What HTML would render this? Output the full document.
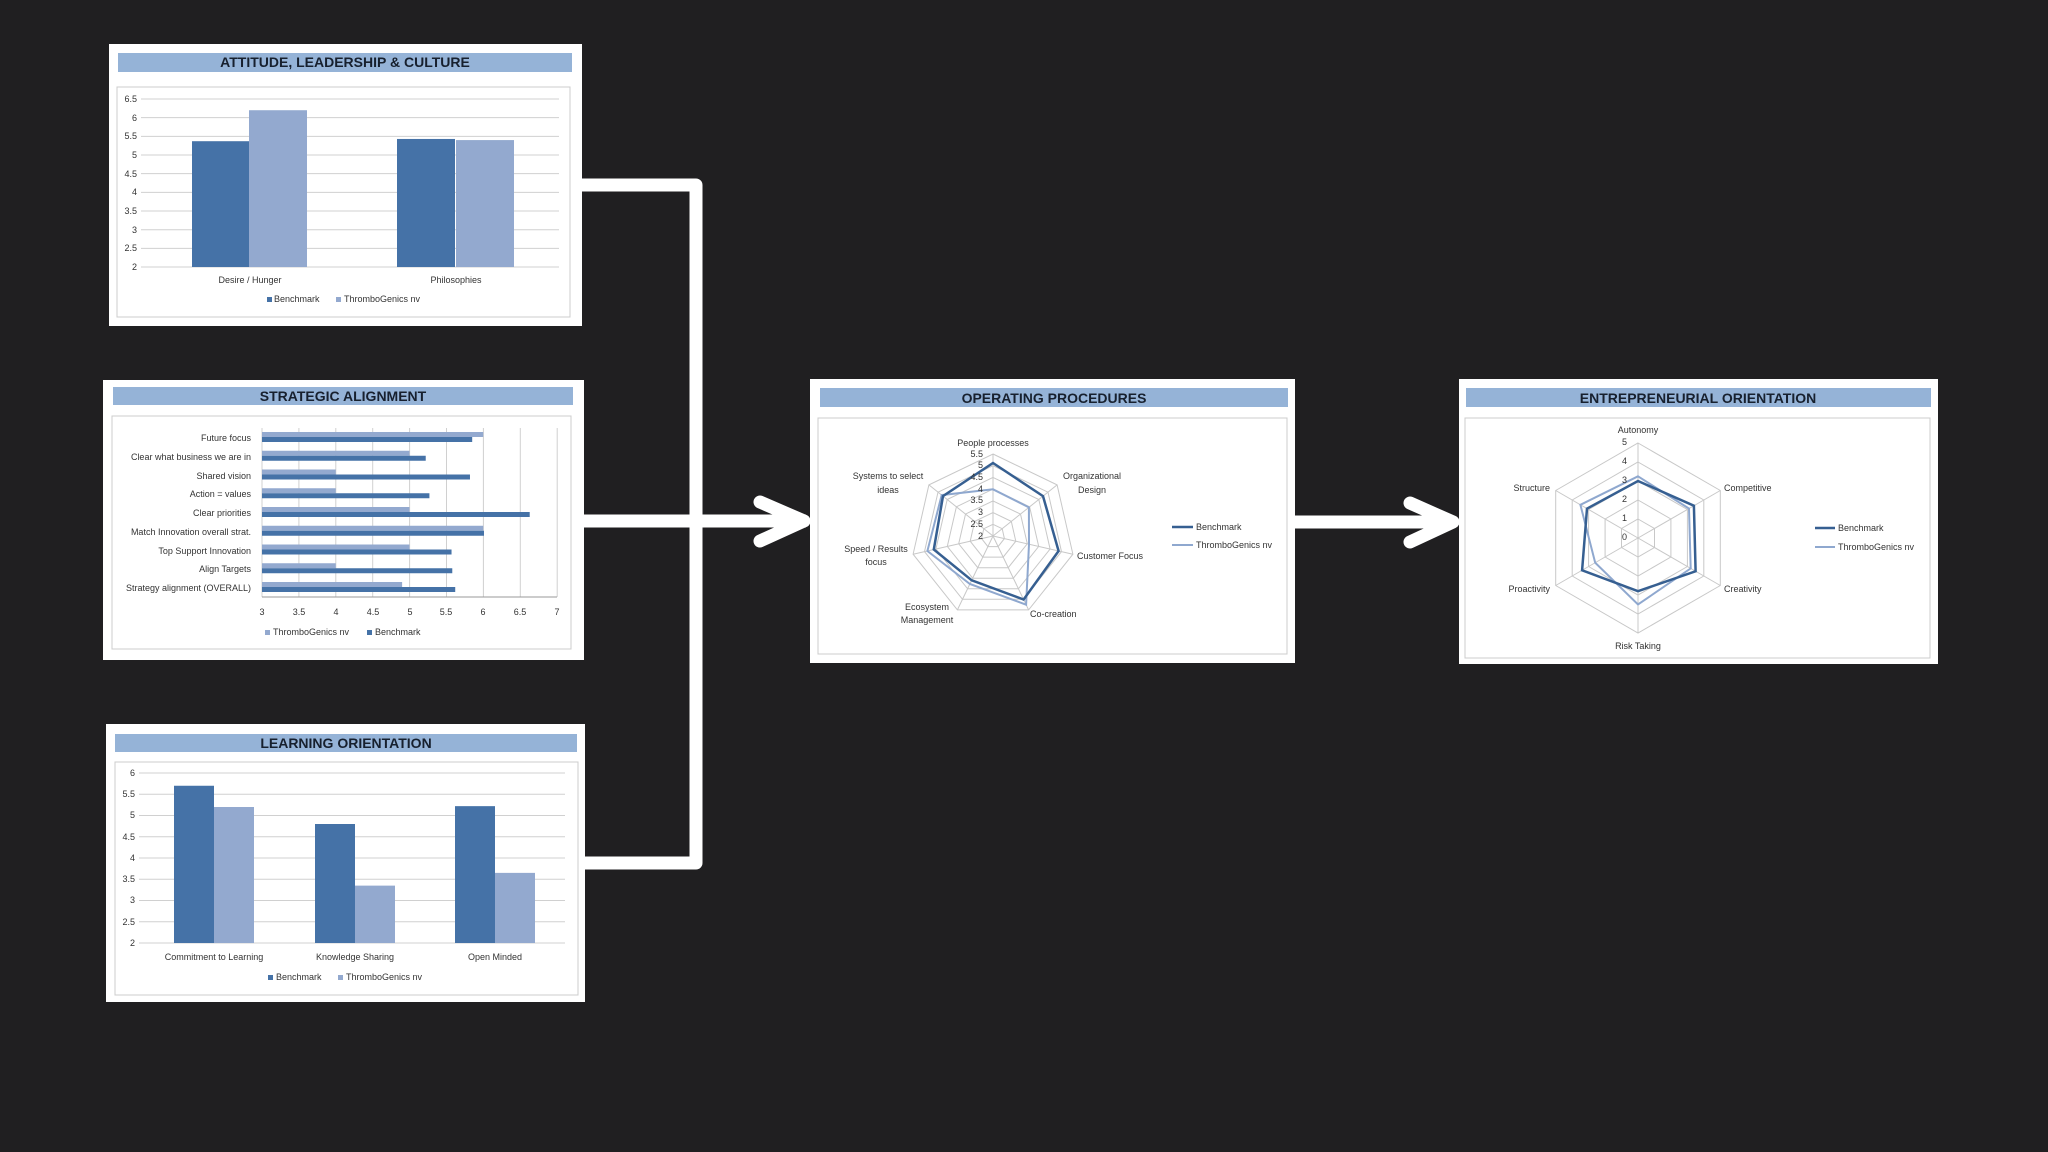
<!DOCTYPE html>
<html><head><meta charset="utf-8"><style>
html,body{margin:0;padding:0;background:#201f21;}
svg{display:block;font-family:"Liberation Sans",sans-serif;}
.t{font-weight:bold;font-size:14px;fill:#17202e;text-anchor:middle;}
.s{font-size:9px;fill:#333;}
.m{text-anchor:middle}.e{text-anchor:end}
</style></head><body>
<svg id="sv" width="2048" height="1152" viewBox="0 0 2048 1152" xmlns="http://www.w3.org/2000/svg">
<rect width="2048" height="1152" fill="#201f21"/>
<!-- connectors -->
<g fill="none" stroke="#fff" stroke-width="13" stroke-linejoin="round">
<path d="M582 185 H696 V863 H584"/>
<path d="M584 521 H806"/>
<path d="M760 502 L804 521 L760 541" stroke-linecap="round"/>
<path d="M1295 522 H1454"/>
<path d="M1410 503 L1453 522 L1410 542" stroke-linecap="round"/>
</g>
<!-- panels -->
<g fill="#fff"><rect x="109" y="44" width="473" height="282"/><rect x="103" y="380" width="481" height="280"/><rect x="810" y="379" width="485" height="284"/><rect x="1459" y="379" width="479" height="285"/><rect x="106" y="724" width="479" height="278"/></g>
<g fill="#95b3d7"><rect x="118" y="53" width="454" height="19"/><rect x="113" y="387" width="460" height="18"/><rect x="820" y="388" width="468" height="19"/><rect x="1466" y="388" width="465" height="19"/><rect x="115" y="734" width="462" height="18"/></g>
<g fill="none" stroke="#ccc"><rect x="117" y="87" width="453" height="230"/><rect x="112" y="416" width="459" height="233"/><rect x="818" y="418" width="469" height="236"/><rect x="1465" y="418" width="465" height="240"/><rect x="115" y="762" width="463" height="233"/></g>
<text class="t" x="345" y="67">ATTITUDE, LEADERSHIP &amp; CULTURE</text>
<text class="t" x="343" y="401">STRATEGIC ALIGNMENT</text>
<text class="t" x="1054" y="403">OPERATING PROCEDURES</text>
<text class="t" x="1698" y="403">ENTREPRENEURIAL ORIENTATION</text>
<text class="t" x="346" y="748">LEARNING ORIENTATION</text>
<g id="dyn"></g>
<!-- panel1 labels -->
<g class="s">
<text class="e" x="137" y="102">6.5</text><text class="e" x="137" y="121">6</text><text class="e" x="137" y="139">5.5</text><text class="e" x="137" y="158">5</text><text class="e" x="137" y="177">4.5</text><text class="e" x="137" y="195">4</text><text class="e" x="137" y="214">3.5</text><text class="e" x="137" y="233">3</text><text class="e" x="137" y="251">2.5</text><text class="e" x="137" y="270">2</text>
<text class="m" x="250" y="283">Desire / Hunger</text><text class="m" x="456" y="283">Philosophies</text>
<rect x="267" y="297" width="5" height="5" fill="#4572a7"/><text x="274" y="302">Benchmark</text>
<rect x="336" y="297" width="5" height="5" fill="#93a9cf"/><text x="344" y="302">ThromboGenics nv</text>
</g>
<!-- panel2 labels -->
<g class="s">
<text class="e" x="251" y="441">Future focus</text><text class="e" x="251" y="460">Clear what business we are in</text><text class="e" x="251" y="479">Shared vision</text><text class="e" x="251" y="497">Action = values</text><text class="e" x="251" y="516">Clear priorities</text><text class="e" x="251" y="535">Match Innovation overall strat.</text><text class="e" x="251" y="554">Top Support Innovation</text><text class="e" x="251" y="572">Align Targets</text><text class="e" x="251" y="591">Strategy alignment (OVERALL)</text>
<text class="m" x="262" y="615">3</text><text class="m" x="299" y="615">3.5</text><text class="m" x="336" y="615">4</text><text class="m" x="373" y="615">4.5</text><text class="m" x="410" y="615">5</text><text class="m" x="446" y="615">5.5</text><text class="m" x="483" y="615">6</text><text class="m" x="520" y="615">6.5</text><text class="m" x="557" y="615">7</text>
<rect x="265" y="630" width="5" height="5" fill="#93a9cf"/><text x="273" y="635">ThromboGenics nv</text>
<rect x="367" y="630" width="5" height="5" fill="#4572a7"/><text x="375" y="635">Benchmark</text>
</g>
<!-- panel3 labels -->
<g class="s">
<text class="m" x="993" y="446">People processes</text>
<text class="m" x="1092" y="479">Organizational</text><text class="m" x="1092" y="493">Design</text>
<text x="1077" y="559">Customer Focus</text>
<text x="1030" y="617">Co-creation</text>
<text class="m" x="927" y="610">Ecosystem</text><text class="m" x="927" y="623">Management</text>
<text class="m" x="876" y="552">Speed / Results</text><text class="m" x="876" y="565">focus</text>
<text class="m" x="888" y="479">Systems to select</text><text class="m" x="888" y="493">ideas</text>
<text class="e" x="983" y="457">5.5</text><text class="e" x="983" y="468">5</text><text class="e" x="983" y="480">4.5</text><text class="e" x="983" y="492">4</text><text class="e" x="983" y="503">3.5</text><text class="e" x="983" y="515">3</text><text class="e" x="983" y="527">2.5</text><text class="e" x="983" y="539">2</text>
<line x1="1172" y1="527" x2="1193" y2="527" stroke="#365f91" stroke-width="2.5"/><text x="1196" y="530">Benchmark</text>
<line x1="1172" y1="545" x2="1193" y2="545" stroke="#8fa8cf" stroke-width="2"/><text x="1196" y="548">ThromboGenics nv</text>
</g>
<!-- panel4 labels -->
<g class="s">
<text class="m" x="1638" y="433">Autonomy</text><text x="1724" y="491">Competitive</text><text x="1724" y="592">Creativity</text><text class="m" x="1638" y="649">Risk Taking</text><text class="e" x="1550" y="592">Proactivity</text><text class="e" x="1550" y="491">Structure</text>
<text class="e" x="1627" y="445">5</text><text class="e" x="1627" y="464">4</text><text class="e" x="1627" y="483">3</text><text class="e" x="1627" y="502">2</text><text class="e" x="1627" y="521">1</text><text class="e" x="1627" y="540">0</text>
<line x1="1815" y1="528" x2="1835" y2="528" stroke="#365f91" stroke-width="2.5"/><text x="1838" y="531">Benchmark</text>
<line x1="1815" y1="547" x2="1835" y2="547" stroke="#8fa8cf" stroke-width="2"/><text x="1838" y="550">ThromboGenics nv</text>
</g>
<!-- panel5 labels -->
<g class="s">
<text class="e" x="135" y="776">6</text><text class="e" x="135" y="797">5.5</text><text class="e" x="135" y="818">5</text><text class="e" x="135" y="840">4.5</text><text class="e" x="135" y="861">4</text><text class="e" x="135" y="882">3.5</text><text class="e" x="135" y="903">3</text><text class="e" x="135" y="925">2.5</text><text class="e" x="135" y="946">2</text>
<text class="m" x="214" y="960">Commitment to Learning</text><text class="m" x="355" y="960">Knowledge Sharing</text><text class="m" x="495" y="960">Open Minded</text>
<rect x="268" y="975" width="5" height="5" fill="#4572a7"/><text x="276" y="980">Benchmark</text>
<rect x="338" y="975" width="5" height="5" fill="#93a9cf"/><text x="346" y="980">ThromboGenics nv</text>
</g>
</svg>
<script>
var g=document.getElementById('dyn'),h='';
function L(a,b,c,d,s,w){h+='<line x1="'+a+'" y1="'+b+'" x2="'+c+'" y2="'+d+'" stroke="'+(s||'#d0d0d0')+'" stroke-width="'+(w||1)+'"/>';}
function R(x,y,w,hh,f){h+='<rect x="'+x+'" y="'+y+'" width="'+w+'" height="'+hh+'" fill="'+f+'"/>';}
var D='#4572a7',Lc='#93a9cf';
// panel1
for(var i=0;i<10;i++){var y=99+i*18.67;L(141,y,559,y);}
function y1(v){return 267-(v-2)*37.33;}
[[192,5.37,D],[249,6.2,Lc],[397,5.43,D],[456,5.4,Lc]].forEach(function(b){R(b[0],y1(b[1]),58,267-y1(b[1]),b[2]);});
// panel2
for(var i=0;i<=8;i++){var x=262+i*36.9;L(x,428,x,597);}
L(262,597,557,597,'#999');
var th=[6,5,4,4,5,6,5,4,4.9],bm=[5.85,5.22,5.82,5.27,6.63,6.01,5.57,5.58,5.62];
for(var i=0;i<9;i++){var c=438+i*18.75;R(262,c-6,(th[i]-3)*73.75,5,Lc);R(262,c-1,(bm[i]-3)*73.75,5,D);}
// panel5
for(var i=0;i<9;i++){var y=773+i*21.25;L(139,y,565,y);}
function y5(v){return 943-(v-2)*42.5;}
[[174,5.7,D],[214,5.2,Lc],[315,4.8,D],[355,3.35,Lc],[455,5.22,D],[495,3.65,Lc]].forEach(function(b){R(b[0],y5(b[1]),40,943-y5(b[1]),b[2]);});
// radar
function radar(cx,cy,r,n,rings,b,t){
 function pt(k,f){var a=-Math.PI/2+k*2*Math.PI/n;return (cx+Math.cos(a)*r*f).toFixed(1)+','+(cy+Math.sin(a)*r*f).toFixed(1);}
 for(var j=1;j<=rings;j++){var p=[];for(var k=0;k<n;k++)p.push(pt(k,j/rings));h+='<polygon points="'+p.join(' ')+'" fill="none" stroke="#c8c8c8"/>';}
 for(var k=0;k<n;k++){var q=pt(k,1).split(',');L(cx,cy,q[0],q[1],'#c8c8c8');}
 var p=[];for(var k=0;k<n;k++)p.push(pt(k,t[k]));h+='<polygon points="'+p.join(' ')+'" fill="none" stroke="#8fa8cf" stroke-width="2"/>';
 p=[];for(var k=0;k<n;k++)p.push(pt(k,b[k]));h+='<polygon points="'+p.join(' ')+'" fill="none" stroke="#365f91" stroke-width="2.5"/>';
}
radar(993,536,82,7,7,[0.89,0.78,0.82,0.86,0.6,0.74,0.78],[0.57,0.56,0.45,0.93,0.65,0.82,0.8]);
radar(1638,538,95,6,5,[0.6,0.68,0.7,0.56,0.68,0.62],[0.65,0.62,0.64,0.7,0.52,0.7]);
g.innerHTML=h;
</script>
</body></html>
